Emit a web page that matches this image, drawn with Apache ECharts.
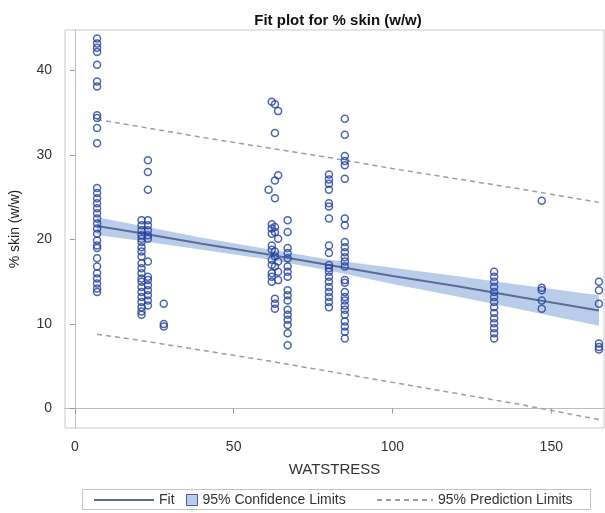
<!DOCTYPE html>
<html>
<head>
<meta charset="utf-8">
<title>Fit plot for % skin (w/w)</title>
<script src="https://cdn.jsdelivr.net/npm/echarts@6/dist/echarts.min.js"></script>
<style>
  html, body { margin: 0; padding: 0; background: #ffffff; }
  #chart { width: 605px; height: 513px; }
</style>
</head>
<body>
<div id="chart"></div>
<script>
// Observed % skin (w/w) grouped by WATSTRESS level
const skin7 = [43.8, 43.2, 42.7, 42.2, 40.7, 38.7, 38.1, 34.7, 34.4, 33.2, 31.4,
  26.1, 25.5, 24.9, 24.3, 23.7, 23.1, 22.5, 21.9, 21.3, 20.7, 19.9, 19.3, 19.0,
  17.8, 16.8, 16.0, 15.4, 14.8, 14.2, 13.8];
const skin21 = [22.3, 21.7, 21.1, 20.5, 20.1, 19.7, 19.1, 18.6, 18.0, 17.2, 16.6,
  16.0, 15.4, 15.0, 14.4, 13.8, 13.2, 12.6, 12.0, 11.5, 11.1];
const skin23 = [29.4, 28.0, 25.9, 22.3, 21.7, 21.1, 20.5, 20.1, 17.4, 15.6, 15.2,
  14.6, 14.0, 13.4, 12.8, 12.2];
const skin28 = [12.4, 10.0, 9.7];
const skin61 = [25.9];
const skin62 = [36.3, 21.8, 21.3, 20.7, 19.3, 18.8, 17.6, 17.0, 16.0, 15.6, 15.0];
const skin63 = [36.0, 32.6, 27.0, 24.9, 21.5, 20.9, 18.6, 18.0, 16.8, 13.0, 12.4, 11.8];
const skin64 = [35.2, 27.6, 20.1, 17.4, 16.2, 15.2];
const skin67 = [22.3, 20.9, 19.0, 18.4, 17.8, 16.8, 16.2, 15.6, 14.0, 13.4, 12.8,
  11.7, 11.1, 10.5, 9.9, 8.9, 7.5];
const skin80 = [27.7, 27.1, 26.6, 25.9, 24.3, 23.9, 22.5, 19.3, 18.4, 17.0, 16.6,
  16.2, 15.6, 15.0, 14.4, 13.8, 13.2, 12.6, 12.0];
const skin85 = [34.3, 32.4, 29.9, 29.3, 28.8, 27.2, 22.5, 21.7, 19.7, 19.1, 18.5,
  17.9, 17.4, 16.8, 15.2, 14.9, 13.8, 13.2, 12.8, 12.2, 11.7, 11.1, 10.3, 9.7, 9.1, 8.3];
const skin132 = [16.2, 15.6, 15.0, 14.4, 13.8, 13.2, 12.6, 12.0, 11.3, 10.7, 10.1,
  9.5, 8.9, 8.3];
const skin147 = [24.6, 14.3, 14.0, 12.8, 11.8];
const skin165 = [15.0, 14.0, 12.4, 7.7, 7.3, 7.0];

const watstressLevels = [7, 21, 23, 28, 61, 62, 63, 64, 67, 80, 85, 132, 147, 165];
const skinByLevel = [skin7, skin21, skin23, skin28, skin61, skin62, skin63, skin64,
  skin67, skin80, skin85, skin132, skin147, skin165];

// Regression fit with 95% confidence and prediction limits
const curveX = [7, 20, 40, 60, 80, 100, 120, 140, 165];
const fitY = [21.6, 20.8, 19.5, 18.3, 17.0, 15.7, 14.5, 13.2, 11.6];
const clUpper = [22.65, 21.7, 20.2, 18.9, 17.65, 16.65, 15.7, 14.65, 13.4];
const clLower = [20.55, 19.9, 18.8, 17.7, 16.35, 14.75, 13.3, 11.75, 9.8];
const plUpper = [34.2, 33.4, 32.1, 30.9, 29.7, 28.4, 27.2, 26.0, 24.4];
const plLower = [8.8, 8.1, 6.9, 5.7, 4.4, 3.1, 1.8, 0.5, -1.3];

const xTicks = [0, 50, 100, 150];
const yTicks = [0, 10, 20, 30, 40];

const points = [];
watstressLevels.forEach(function (x, i) {
  skinByLevel[i].forEach(function (y) { points.push([x, y]); });
});
const pair = function (ys) { return curveX.map(function (x, i) { return [x, ys[i]]; }); };

const FONT = 'Liberation Sans, Arial, sans-serif';
const fitColor = '#5b6c93';
const bandColor = '#b8cdea';
const predColor = '#9b9ea6';
const markerColor = '#233f9c';

const chart = echarts.init(document.getElementById('chart'), null, { renderer: 'canvas' });

// Confidence band drawn as one polygon: upper limit left to right, lower limit back
function renderBand(params, api) {
  const pts = [];
  for (let i = 0; i < curveX.length; i++) pts.push(api.coord([curveX[i], clUpper[i]]));
  for (let i = curveX.length - 1; i >= 0; i--) pts.push(api.coord([curveX[i], clLower[i]]));
  return {
    type: 'polygon',
    shape: { points: pts },
    style: { fill: bandColor, stroke: 'none' }
  };
}

const hiddenSymbol = { opacity: 0, color: 'rgba(0,0,0,0)', borderWidth: 0 };

chart.setOption({
  animation: false,
  backgroundColor: '#ffffff',
  title: {
    text: 'Fit plot for % skin (w/w)',
    left: 333, textAlign: 'center', top: 8,
    textStyle: { fontFamily: FONT, fontSize: 15, fontWeight: 'bold', color: '#111' }
  },
  grid: {
    left: 62, right: 1, top: 30, bottom: 85,
    show: true, borderColor: '#c9c9c9', borderWidth: 1, backgroundColor: '#ffffff'
  },
  xAxis: {
    type: 'value', min: -3.1, max: 166.6,
    name: 'WATSTRESS', nameLocation: 'middle', nameGap: 34,
    nameTextStyle: { fontFamily: FONT, fontSize: 15, color: '#333' },
    axisLine: { show: true, lineStyle: { color: '#bdbdbd' } },
    axisTick: { show: true, length: 5, customValues: xTicks, lineStyle: { color: '#999' } },
    axisLabel: { customValues: xTicks, margin: 12, fontFamily: FONT, fontSize: 14, color: '#333' },
    splitLine: { show: false }
  },
  yAxis: {
    type: 'value', min: -2.3, max: 44.8,
    name: '% skin (w/w)', nameLocation: 'middle', nameGap: 43, nameRotate: 90,
    nameTextStyle: { fontFamily: FONT, fontSize: 14, color: '#222' },
    axisLine: { show: true, lineStyle: { color: '#bdbdbd' } },
    axisTick: { show: true, length: 5, customValues: yTicks, lineStyle: { color: '#999' } },
    axisLabel: { customValues: yTicks, margin: 13, fontFamily: FONT, fontSize: 14, color: '#333' },
    splitLine: { show: false }
  },
  legend: [
    {
      data: [{ name: 'Fit', itemStyle: hiddenSymbol }],
      left: 88, top: 488, itemWidth: 60, itemHeight: 12, itemGap: 0,
      textStyle: { fontFamily: FONT, fontSize: 14, color: '#333' }
    },
    {
      data: [{ name: '95% Confidence Limits', icon: 'rect',
        itemStyle: { color: bandColor, borderColor: '#4d5f88', borderWidth: 1 } }],
      left: 181, top: 488, itemWidth: 11, itemHeight: 11,
      textStyle: { fontFamily: FONT, fontSize: 14, color: '#333' }
    },
    {
      data: [{ name: '95% Prediction Limits', itemStyle: hiddenSymbol }],
      left: 371, top: 488, itemWidth: 56, itemHeight: 12,
      textStyle: { fontFamily: FONT, fontSize: 14, color: '#333' }
    }
  ],
  graphic: [{
    type: 'rect', left: 80, top: 487, silent: true,
    shape: { width: 508, height: 20 },
    style: { fill: 'none', stroke: '#c4c4c4', lineWidth: 1 }
  }],
  series: [
    {
      name: '95% Confidence Limits', type: 'custom', renderItem: renderBand,
      data: [[curveX[0], clLower[0]]], itemStyle: { color: bandColor },
      clip: true, silent: true, z: 1
    },
    {
      name: '95% Prediction Limits', type: 'line', data: pair(plUpper), symbol: 'none',
      lineStyle: { color: predColor, width: 1.5, type: [5, 4] }, itemStyle: { color: predColor }, z: 2
    },
    {
      name: '95% Prediction Limits', type: 'line', data: pair(plLower), symbol: 'none',
      lineStyle: { color: predColor, width: 1.5, type: [5, 4] }, itemStyle: { color: predColor }, z: 2
    },
    {
      name: 'Fit', type: 'line', data: pair(fitY), symbol: 'none',
      lineStyle: { color: fitColor, width: 2 }, itemStyle: { color: fitColor }, z: 3
    },
    {
      name: 'skin', type: 'scatter', data: points, symbol: 'circle', symbolSize: 7,
      itemStyle: { color: 'rgba(0,0,0,0)', borderColor: markerColor, borderWidth: 1.5 }, z: 4
    }
  ]
});
</script>
</body>
</html>
